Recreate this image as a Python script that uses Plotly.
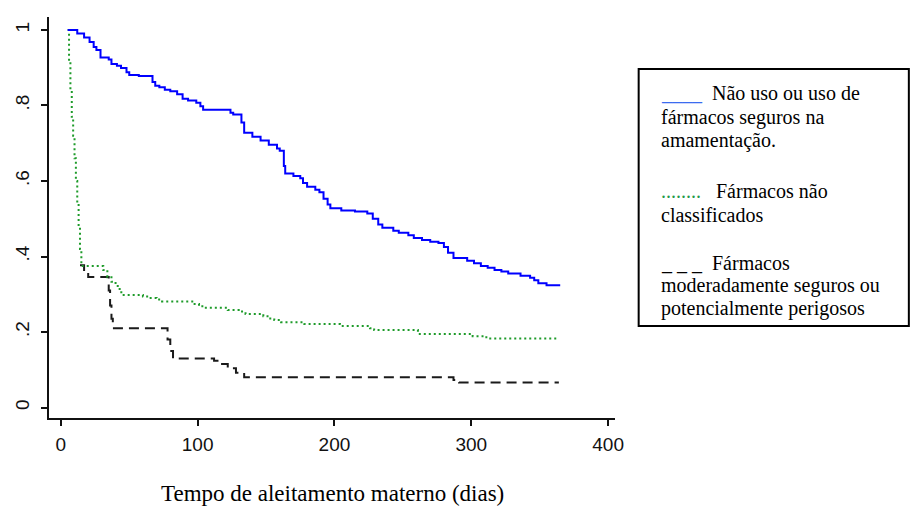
import plotly.graph_objects as go

# ---- data ----
blue_days = [5, 12, 17, 21, 24, 26, 29, 35, 37, 41, 44, 48, 50, 57, 67, 69, 72, 76, 80, 85,
             89, 93, 99, 102, 104, 124, 126, 132, 134, 140, 146, 152, 158, 160, 163, 164, 170, 175, 177, 180,
             186, 189, 192, 195, 197, 205, 215, 224, 228, 232, 235, 243, 247, 254, 258, 264, 270, 276, 280, 283,
             287, 297, 302, 307, 312, 317, 322, 327, 336, 343, 346, 349, 355, 365]
blue_surv = [1.0, .991, .980, .968, .955, .947, .927, .922, .910, .905, .899, .888, .881, .878, .862, .852, .848, .842, .838, .830,
             .818, .813, .807, .798, .789, .781, .776, .755, .728, .717, .707, .696, .686, .680, .640, .620, .613, .607, .595, .585,
             .577, .570, .553, .538, .528, .522, .519, .514, .500, .485, .476, .468, .463, .456, .449, .444, .439, .436, .425, .410,
             .396, .389, .382, .375, .370, .364, .360, .355, .349, .344, .337, .329, .324, .324]

green_days = [5, 6, 7, 8, 9, 10, 11, 12, 13, 14, 15, 31, 34, 37, 40, 43, 45, 60, 64, 70,
              74, 97, 101, 105, 122, 130, 135, 148, 152, 156, 161, 178, 204, 226, 229, 261, 301, 311, 363]
green_surv = [1.0, .915, .84, .77, .72, .66, .6, .54, .48, .42, .375, .364, .345, .333, .322, .305, .298, .294, .29, .286,
              .281, .274, .268, .264, .258, .254, .248, .242, .236, .232, .226, .221, .216, .210, .205, .195, .189, .183, .183]

black_days = [14, 17, 20, 35, 36, 37, 38, 78, 80, 82, 112, 117, 122, 128, 134, 287, 291, 364]
black_surv = [.377, .36, .346, .31, .27, .235, .21, .18, .15, .13, .124, .115, .104, .092, .08, .073, .066, .066]

x_ticks = [0, 100, 200, 300, 400]
y_ticks = [0, 0.2, 0.4, 0.6, 0.8, 1.0]
y_ticktext = ["0", ".2", ".4", ".6", ".8", "1"]

x_title = "Tempo de aleitamento materno (dias)"
legend_lines = [
    ("<span style='color:#3a6cf0'>____</span>\u00a0\u00a0Não uso ou uso de", 92.5),
    ("fármacos seguros na", 117),
    ("amamentação.", 140.5),
    ("<span style='color:#1f9a4a'>........</span>\u00a0\u00a0\u00a0Fármacos não", 191),
    ("classificados", 214.5),
    ("_ _ _\u00a0\u00a0Fármacos", 262.5),
    ("moderadamente seguros ou", 285.5),
    ("potencialmente perigosos", 308.5),
]

# ---- figure geometry ----
W, H = 915, 506
ML, MR, MT, MB = 41, 300, 17, 88
PW, PH = W - ML - MR, H - MT - MB


def px_x(x):
    return (x - ML) / PW


def px_y(y):
    return (H - MB - y) / PH


fig = go.Figure()
fig.add_trace(go.Scatter(x=black_days, y=black_surv, mode="lines", line_shape="hv",
                         line=dict(color="#1a1a1a", width=2, dash="10px,6px"), showlegend=False))
fig.add_trace(go.Scatter(x=green_days, y=green_surv, mode="lines", line_shape="hv",
                         line=dict(color="#1e9b2a", width=2, dash="2px,3px"), showlegend=False))
fig.add_trace(go.Scatter(x=blue_days, y=blue_surv, mode="lines", line_shape="hv",
                         line=dict(color="#0000ff", width=2), showlegend=False))

axis_font = dict(family="Liberation Sans, Arial, sans-serif", size=19, color="#111111")
fig.update_xaxes(range=[-8.65, 405.05], tickvals=x_ticks, ticktext=[str(v) for v in x_ticks],
                 showgrid=False, zeroline=False, showline=True, linecolor="#111111", linewidth=2,
                 ticks="outside", ticklen=6, tickwidth=2, tickcolor="#111111",
                 tickfont=axis_font, ticklabelstandoff=2)
fig.update_yaxes(range=[-0.0278, 1.0344], tickvals=y_ticks, ticktext=y_ticktext, tickangle=-90,
                 showgrid=False, zeroline=False, showline=True, linecolor="#111111", linewidth=2,
                 ticks="outside", ticklen=6, tickwidth=2, tickcolor="#111111",
                 tickfont=axis_font, ticklabelstandoff=4)

serif = "Liberation Serif, Times New Roman, serif"
annotations = [dict(text=x_title, x=px_x(328), y=px_y(493), xref="paper", yref="paper",
                    xanchor="center", yanchor="middle", showarrow=False,
                    font=dict(family=serif, size=23, color="#000000"))]
for txt, yc in legend_lines:
    annotations.append(dict(text=txt, x=px_x(660), y=px_y(yc), xref="paper", yref="paper",
                            xanchor="left", yanchor="middle", showarrow=False, align="left",
                            font=dict(family=serif, size=20, color="#000000")))

shapes = [dict(type="rect", xref="paper", yref="paper",
               x0=px_x(639), x1=px_x(913), y0=px_y(326), y1=px_y(69),
               line=dict(color="#000000", width=2), fillcolor="rgba(0,0,0,0)")]

fig.update_layout(width=W, height=H, margin=dict(l=ML, r=MR, t=MT, b=MB),
                  plot_bgcolor="white", paper_bgcolor="white",
                  annotations=annotations, shapes=shapes, showlegend=False)

fig.write_html("out.html")
